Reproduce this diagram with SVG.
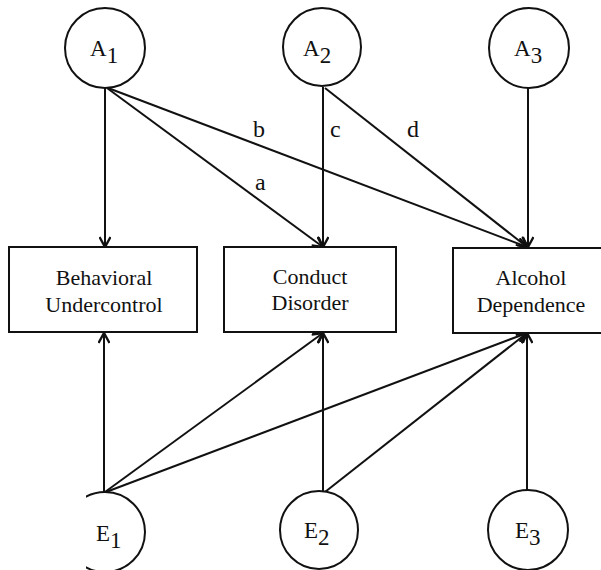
<svg xmlns="http://www.w3.org/2000/svg" width="601" height="570" viewBox="0 0 601 570">
<style>
  .node { fill: #fff; stroke: #111; stroke-width: 2; }
  text { font-family: 'Liberation Serif', 'DejaVu Serif', 'Times New Roman', serif; fill: #111; }
  .lbl { font-size: 22px; }
  .pl { font-size: 24px; }
  .var { font-size: 23px; }
  .edge { stroke: #111; stroke-width: 2; fill: none; marker-end: url(#arr); }
</style>
<defs>
  <marker id="arr" viewBox="0 0 12 12" refX="11" refY="6" markerWidth="12" markerHeight="12" markerUnits="userSpaceOnUse" orient="auto">
    <path d="M1,0.5 L11,6 L1,11.5" fill="none" stroke="#111" stroke-width="2.4"/>
  </marker>
  <clipPath id="e1clip"><rect x="86" y="0" width="515" height="570"/></clipPath>
</defs>
<rect x="0" y="0" width="601" height="570" fill="#fff"/>

<g id="connectors">
  <line class="edge" x1="105" y1="88" x2="105" y2="247"/>
  <line class="edge" x1="107" y1="88" x2="323" y2="247"/>
  <line class="edge" x1="108" y1="88" x2="527" y2="247"/>
  <line class="edge" x1="323" y1="87" x2="323" y2="247"/>
  <line class="edge" x1="325" y1="88" x2="527" y2="247"/>
  <line class="edge" x1="528" y1="88" x2="528" y2="247"/>
  <line class="edge" x1="104" y1="492" x2="104" y2="333"/>
  <line class="edge" x1="105" y1="492" x2="323" y2="333"/>
  <line class="edge" x1="106" y1="492" x2="527" y2="333"/>
  <line class="edge" x1="323" y1="492" x2="323" y2="333"/>
  <line class="edge" x1="325" y1="492" x2="527" y2="333"/>
  <line class="edge" x1="527" y1="492" x2="527" y2="333"/>
  <text class="pl" x="253" y="137">b</text>
  <text class="pl" x="255" y="190">a</text>
  <text class="pl" x="330" y="137">c</text>
  <text class="pl" x="407" y="137">d</text>
</g>

<g id="A1">
  <circle class="node" cx="105" cy="48" r="40"/>
  <text class="var" x="90" y="56">A<tspan dy="7">1</tspan></text>
</g>
<g id="A2">
  <circle class="node" cx="322" cy="47" r="39"/>
  <text class="var" x="303" y="56">A<tspan dy="7">2</tspan></text>
</g>
<g id="A3">
  <circle class="node" cx="529" cy="48" r="40"/>
  <text class="var" x="514" y="56">A<tspan dy="7">3</tspan></text>
</g>

<g id="behavioral">
  <rect class="node" x="9" y="247" width="188" height="85"/>
  <text class="lbl" x="104" y="285" text-anchor="middle">Behavioral</text>
  <text class="lbl" x="104" y="312" text-anchor="middle">Undercontrol</text>
</g>
<g id="conduct">
  <rect class="node" x="224" y="247" width="172" height="85"/>
  <text class="lbl" x="310" y="284" text-anchor="middle">Conduct</text>
  <text class="lbl" x="310" y="310" text-anchor="middle">Disorder</text>
</g>
<g id="alcohol">
  <rect class="node" x="453" y="248" width="160" height="85"/>
  <text class="lbl" x="531" y="285" text-anchor="middle">Alcohol</text>
  <text class="lbl" x="531" y="312" text-anchor="middle">Dependence</text>
</g>

<g id="E1">
  <circle class="node" cx="105" cy="532" r="40" clip-path="url(#e1clip)"/>
  <text class="var" x="96" y="541">E<tspan dy="7">1</tspan></text>
</g>
<g id="E2">
  <circle class="node" cx="319" cy="530" r="39"/>
  <text class="var" x="304" y="538">E<tspan dy="7">2</tspan></text>
</g>
<g id="E3">
  <circle class="node" cx="528" cy="530" r="40"/>
  <text class="var" x="515" y="538">E<tspan dy="7">3</tspan></text>
</g>
</svg>
